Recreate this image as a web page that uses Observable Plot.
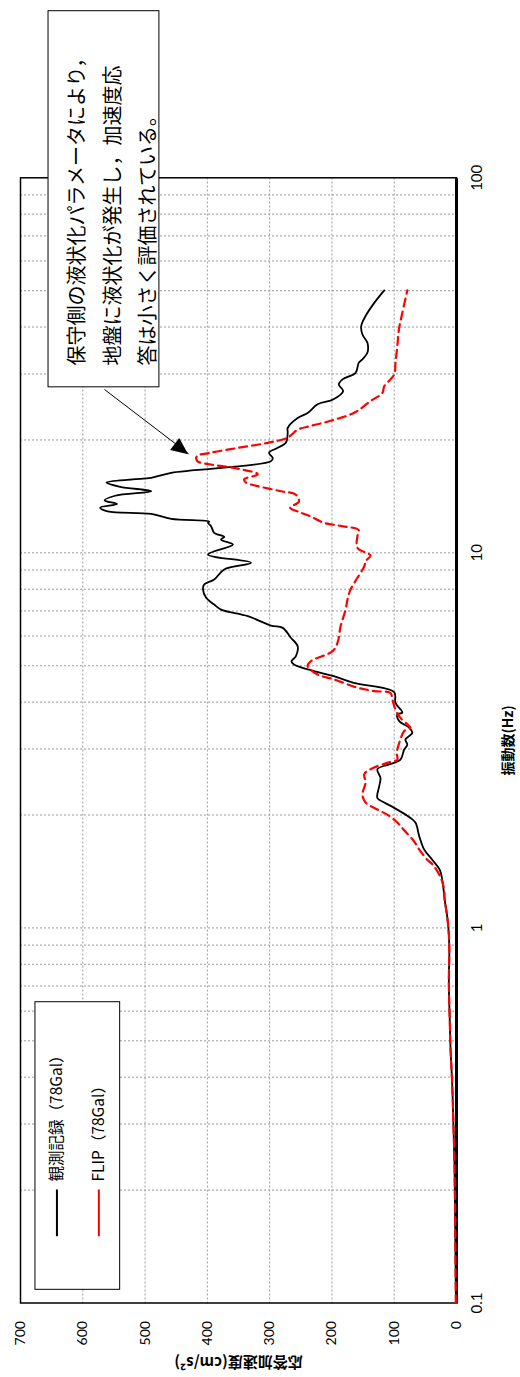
<!DOCTYPE html>
<html><head><meta charset="utf-8">
<script src="https://cdn.jsdelivr.net/npm/d3@7"></script>
<script src="https://cdn.jsdelivr.net/npm/@observablehq/plot@0.6"></script>
<style>
html,body{margin:0;padding:0;background:#fff;overflow:hidden;width:520px;height:1377px}
#wrap{position:absolute;left:0;top:0;width:1377px;height:520px;transform-origin:0 0;transform:translateY(1377px) rotate(-90deg);}
</style></head><body><div id="wrap"></div>
<script>
// ---- data (frequency Hz, response acceleration cm/s2) ----
const obsFreq = [0.1,0.154,0.232,0.315,0.387,0.474,0.582,0.715,0.876,0.972,1.075,1.19,1.35,1.43,1.52,1.62,1.76,1.91,1.99,2.09,2.16,2.22,2.39,2.51,2.65,2.73,2.81,2.99,3.08,3.18,3.31,3.42,3.56,3.71,3.75,3.98,4.25,4.50,4.69,4.84,5.04,5.14,5.30,5.64,5.94,6.31,6.40,6.78,7.06,7.28,7.59,7.99,8.24,8.49,9.03,9.41,9.90,10.53,10.85,11.03,11.31,11.78,12.03,12.12,12.32,12.7,12.9,13.2,13.5,13.8,14.2,14.6,15.0,15.4,15.7,15.85,16.35,17.55,17.9,18.49,19.06,19.65,20.9,21.55,22.9,23.6,24.9,25.6,27.0,28.1,29.0,30.2,32.1,32.8,34.2,36.3,38.2,40.2,42.8,46.4,50.1];
const obsAcc  = [1,2,3.2,5.3,7,9.5,11,12.3,11.5,12.5,15,19,23,27,39,52,60,66,79,100,116,127,124,122,127,108,90,84,79,82,71,76,92,95,87,98,100,165,197,229,261,265,258,255,266,279,298,335,378,389,402,407,405,389,373,330,399,359,378,373,389,394,399,397,458,490,560,572,545,565,548,490,540,562,520,490,458,298,295,301,287,274,271,271,255,239,223,199,182,189,183,162,157,151,143,143,151,153,146,132,116];
const flipFreq = [0.1,0.154,0.232,0.315,0.387,0.474,0.582,0.715,0.876,0.972,1.075,1.19,1.27,1.37,1.48,1.52,1.62,1.70,1.83,1.91,1.99,2.07,2.16,2.27,2.44,2.57,2.65,2.755,2.81,2.93,3.18,3.35,3.42,3.49,3.63,3.82,4.07,4.23,4.28,4.37,4.60,4.74,4.99,5.14,5.47,5.76,6.38,7.06,7.51,7.99,8.58,9.21,9.50,9.84,10.3,11.1,11.5,11.8,12.03,12.5,12.8,13.2,13.7,14.3,14.6,15.06,15.4,15.7,16.2,16.9,17.2,17.56,18.1,18.5,19.05,19.65,20.3,21.3,21.8,22.5,23.6,25.4,26.7,27.8,29.9,32.1,35.6,39.4,43.6,50.1];
const flipAcc  = [1,2,3.2,5.3,7,9.5,11,12.3,11.5,12.5,15,19,20,26,39,47,60,68,85,95,108,127,146,151,146,148,138,111,95,96,90,84,74,79,90,98,103,106,132,159,197,223,239,234,199,191,186,178,175,170,159,148,146,138,159,159,157,186,213,234,250,267,253,258,282,319,338,341,319,362,394,416,417,394,351,303,271,255,234,202,165,138,119,116,100,98,95,92.5,87,79];
const seriesNames = ["観測記録（78Gal）", "FLIP（78Gal）"];
const xTicks = [0.1, 1, 10, 100];
const yTicks = [0, 100, 200, 300, 400, 500, 600, 700];
const xTitle = "振動数(Hz)";
const yTitle = "応答加速度(cm/s²)";
const noteLines = ["保守側の液状化パラメータにより，", "地盤に液状化が発生し，加速度応", "答は小さく評価されている。"];

// annotation / legend anchors in data units
const note = {f1: 27.8, f2: 279.8, a1: 477, a2: 655, tf: 31.6, ta: 559};
const arrow = {f1: 27.27, a1: 565.2, f2: 18.37, a2: 430};
const leg = {f1: 0.1091, f2: 0.6377, a1: 540, a2: 676, lf1: 0.1507, lf2: 0.2008, tf: 0.2109, ya: [641.5, 574.2]};

const obs = obsFreq.map((f, i) => ({f, a: obsAcc[i]}));
const flip = flipFreq.map((f, i) => ({f, a: flipAcc[i]}));
const xGrid = [];
for (const d of [0.1, 1, 10]) for (let k = 1; k <= 9; k++) xGrid.push(+(d * k).toPrecision(3));
const yGrid = yTicks.filter(v => v > 0 && v < 700);

const cjk = "'Noto Sans CJK JP', sans-serif";
const gridStyle = {stroke: "#9a9a9a", strokeWidth: 1, strokeDasharray: "2,2", strokeOpacity: 1};

const arrowHead = (index, scales) => {
  const tx = scales.x(arrow.f2), ty = scales.y(arrow.a2);
  const sx = scales.x(arrow.f1), sy = scales.y(arrow.a1);
  const dx = tx - sx, dy = ty - sy, L = Math.hypot(dx, dy);
  const ux = dx / L, uy = dy / L;
  const bx = tx - ux * 17, by = ty - uy * 17;
  const pts = [[tx, ty], [bx - uy * 7.5, by + ux * 7.5], [bx + uy * 7.5, by - ux * 7.5]];
  const p = document.createElementNS("http://www.w3.org/2000/svg", "polygon");
  p.setAttribute("points", pts.map(q => q.join(",")).join(" "));
  p.setAttribute("fill", "black");
  return p;
};

const chart = Plot.plot({
  width: 1377, height: 520,
  marginLeft: 73.5, marginRight: 178.3, marginTop: 20, marginBottom: 64,
  style: {fontFamily: "Lato, 'Noto Sans CJK JP', sans-serif", fontSize: "14px", background: "white", color: "black"},
  x: {type: "log", domain: [0.1, 100]},
  y: {domain: [0, 700]},
  marks: [
    Plot.ruleX(xGrid.filter(v => v > 0.1), {...gridStyle}),
    Plot.ruleY(yGrid, {...gridStyle}),
    Plot.frame({stroke: "black", strokeWidth: 1.5}),
    Plot.ruleY([0], {stroke: "black", strokeWidth: 3}),
    Plot.axisX({ticks: xTicks, tickSize: 0, tickPadding: 15, fontSize: 15, tickFormat: d => String(d), label: null}),
    Plot.axisY({ticks: yTicks, tickSize: 0, tickPadding: 18, fontSize: 14, tickFormat: d => String(d), label: null}),
    Plot.text([xTitle], {frameAnchor: "bottom", dy: 52, textAnchor: "middle", lineAnchor: "middle", fontWeight: "bold", fontSize: 14, fontFamily: cjk}),
    Plot.text([yTitle], {frameAnchor: "left", dx: -58.5, rotate: -90, textAnchor: "middle", lineAnchor: "middle", fontWeight: "bold", fontSize: 15, fontFamily: cjk}),
    Plot.line(obs, {x: "f", y: "a", stroke: "black", strokeWidth: 1.8, curve: "catmull-rom"}),
    Plot.line(flip, {x: "f", y: "a", stroke: "#ff0000", strokeWidth: 2.2, strokeDasharray: "8,5", curve: "catmull-rom"}),
    // legend
    Plot.rect([leg], {x1: "f1", x2: "f2", y1: "a1", y2: "a2", fill: "white", stroke: "black", strokeWidth: 1}),
    Plot.link(leg.ya.map((a, i) => ({a, i})), {x1: () => leg.lf1, x2: () => leg.lf2, y1: "a", y2: "a",
      stroke: d => d.i === 0 ? "black" : "#ff0000", strokeWidth: 2, strokeDasharray: d => d.i === 0 ? null : "8,5"}),
    Plot.text(leg.ya.map((a, i) => ({a, t: seriesNames[i]})), {x: () => leg.tf, y: "a", text: "t", textAnchor: "start", lineAnchor: "middle", fontSize: 15.5, fontFamily: cjk}),
    // annotation
    Plot.rect([note], {x1: "f1", x2: "f2", y1: "a1", y2: "a2", fill: "white", stroke: "black", strokeWidth: 1}),
    Plot.text([noteLines.join("\n")], {x: () => note.tf, y: () => note.ta, textAnchor: "start", lineAnchor: "middle", lineHeight: 1.77, fontSize: 20, fontFamily: cjk}),
    Plot.link([arrow], {x1: "f1", y1: "a1", x2: "f2", y2: "a2", stroke: "black", strokeWidth: 1}),
    arrowHead
  ]
});
document.getElementById("wrap").appendChild(chart);
</script></body></html>
